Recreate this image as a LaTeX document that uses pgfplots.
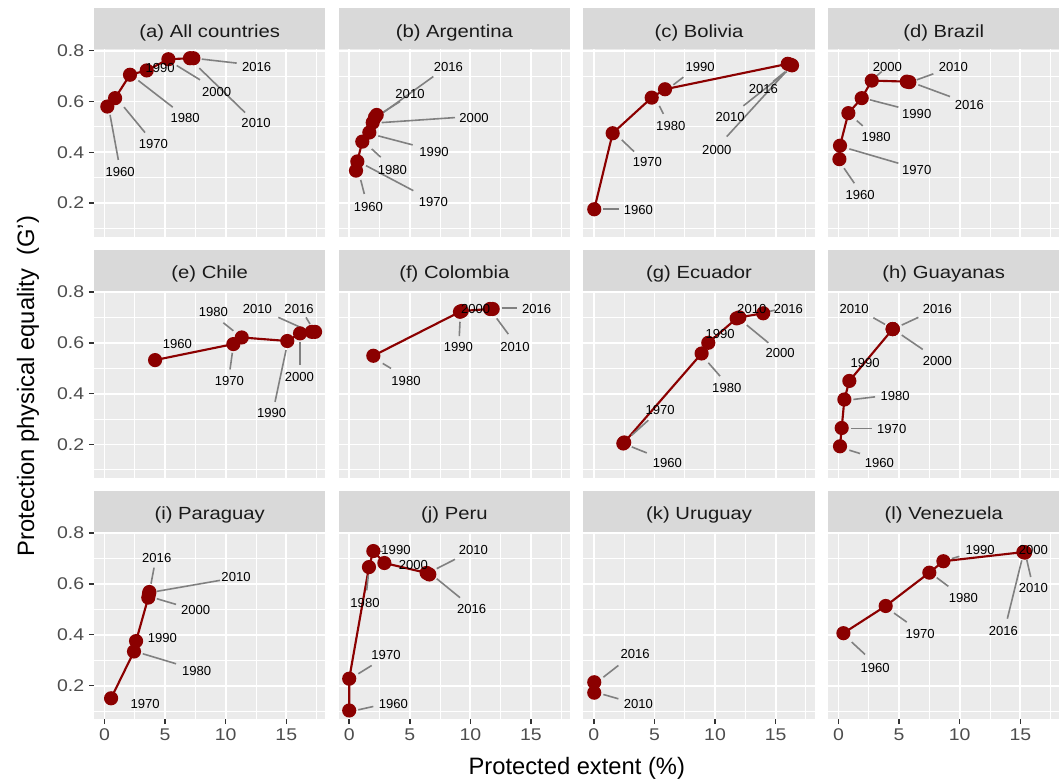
\documentclass[border=0pt]{standalone}
\usepackage{fontspec}
\setmainfont{Liberation Sans}
\newfontfamily\wide{Liberation Sans}[FakeStretch=1.15]
\usepackage{pgfplots}
\pgfplotsset{compat=1.18}
\definecolor{panelbg}{HTML}{EBEBEB}
\definecolor{stripbg}{HTML}{D9D9D9}
\definecolor{ticklab}{HTML}{4D4D4D}
\definecolor{tickc}{HTML}{333333}
\definecolor{dred}{HTML}{8B0000}
\definecolor{segc}{HTML}{808080}
\definecolor{striptext}{HTML}{1A1A1A}

% label helpers: positions read in image pixels, turned into axis units
\newcommand\xo{0}
\newcommand\yo{0}
\newcommand{\seg}[4]{\draw[segc, line width=1.2pt] (axis cs:{(#1-\xo)/12.12},{0.8-(#2-\yo)/254}) -- (axis cs:{(#3-\xo)/12.12},{0.8-(#4-\yo)/254});}
% year labels: anchor kept inside the axis, text set after it so it sits above the points
\newcommand\labs{}
\newcommand{\lab}[3]{\coordinate (L#3) at (axis cs:{(#1-\xo)/12.12},{0.8-(#2-\yo)/254});\expandafter\gdef\expandafter\labs\expandafter{\labs\dolab{#3}}}
\newcommand{\dolab}[1]{\node[inner sep=0pt, font=\fontsize{9.8}{9.8}\selectfont] at (L#1) {#1};}
\newcommand{\putlabs}{\labs\gdef\labs{}}

\pgfplotsset{
  fac/.style={
    anchor=north west, scale only axis, width=173.6pt, height=140.55pt,
    xmin=-0.87, xmax=18.23, ymin=0.068, ymax=0.805, clip=false,
    xtick={0,5,10,15}, ytick={0.2,0.4,0.6,0.8},
    minor xtick={2.5,7.5,12.5,17.5}, minor ytick={0.1,0.3,0.5,0.7},
    grid=both,
    major grid style={white, line width=1.4pt},
    minor grid style={white, line width=0.75pt},
    axis background/.style={fill=panelbg},
    axis line style={draw=none},
    tick align=outside, xtick pos=bottom, ytick pos=left,
    major tick length=3.8pt, minor tick length=0pt,
    tick style={tickc, line width=1.1pt},
    xticklabels={}, yticklabels={},
    xtick style={draw=none}, ytick style={draw=none},
    ticklabel style={font=\wide\fontsize{12.7}{12.7}\selectfont, text=ticklab},
    execute at begin axis={\fill[stripbg] (rel axis cs:0,1) rectangle ([yshift=30.75pt]rel axis cs:1,1);},
    every axis title/.style={at={(0.5,1)}, anchor=base, yshift=9pt, inner sep=0pt,
      text=striptext, font=\wide\fontsize{13.2}{13.2}\selectfont},
  },
  showx/.style={xticklabels={0,5,10,15}, xtick style={draw=tickc}},
  showy/.style={yticklabels={0.2,0.4,0.6,0.8}, ytick style={draw=tickc}},
  series/.style={dred, line width=1.6pt, mark=*, mark size=4.5pt,
    mark options={fill=dred, draw=dred}},
}

\begin{document}
\begin{tikzpicture}
\useasboundingbox (0,0) rectangle (797.25pt,-588pt);

% (a)
\renewcommand\xo{104.5}\renewcommand\yo{50.8}
\begin{axis}[fac, showy, at={(70.5pt,-37pt)}, title={(a) All countries}]
\addplot[series] coordinates {(0.23,0.580) (0.87,0.613) (2.10,0.705) (3.48,0.722) (5.27,0.766) (7.05,0.770) (7.33,0.770)};
\seg{110}{115}{118.3}{160} \lab{120}{171.7}{1960}
\seg{124}{107.3}{145}{132.7} \lab{153.3}{144}{1970}
\seg{138.3}{80.7}{172.7}{107.3} \lab{185}{118.3}{1980}
\lab{160}{68.3}{1990}
\seg{176.7}{65.7}{200}{80} \lab{216.7}{91.7}{2000}
\seg{199.3}{68.3}{245}{112.7} \lab{256}{123.3}{2010}
\seg{201.7}{59.3}{236.7}{63.3} \lab{256.7}{66.7}{2016}
\end{axis}
\putlabs

% (b)
\renewcommand\xo{349.2}\renewcommand\yo{50.8}
\begin{axis}[fac, at={(254pt,-37pt)}, title={(b) Argentina}]
\addplot[series] coordinates {(0.56,0.328) (0.67,0.364) (1.08,0.442) (1.66,0.478) (1.94,0.517) (2.13,0.538) (2.27,0.547)};
\seg{360.7}{180}{364.3}{194} \lab{368.3}{206.7}{1960}
\seg{366}{165.7}{413.3}{190.7} \lab{433.3}{202.3}{1970}
\seg{371.7}{149}{380.7}{157.3} \lab{392.3}{170}{1980}
\seg{378.3}{136}{412.7}{145} \lab{434}{151.7}{1990}
\seg{381.7}{122.7}{455}{117.7} \lab{474}{118.3}{2000}
\seg{382}{113}{400}{101.7} \lab{410}{94.3}{2010}
\seg{383.3}{112.7}{433.3}{76.7} \lab{448.3}{66.7}{2016}
\end{axis}
\putlabs

% (c)
\renewcommand\xo{593.8}\renewcommand\yo{50.8}
\begin{axis}[fac, at={(437.5pt,-37pt)}, title={(c) Bolivia}]
\addplot[series] coordinates {(0.03,0.176) (1.55,0.475) (4.77,0.615) (5.87,0.648) (16.00,0.748) (16.20,0.745) (16.35,0.742)};
\seg{603.3}{209.3}{619.3}{209.3} \lab{638.3}{210}{1960}
\seg{621.7}{140}{634}{151.7} \lab{647.3}{162.3}{1970}
\seg{659.3}{106}{663.3}{114} \lab{670.7}{126}{1980}
\seg{673.3}{85}{683.3}{77.3} \lab{700}{66.7}{1990}
\seg{784}{74}{726.7}{136.7} \lab{716.7}{150}{2000}
\seg{786.7}{71.7}{743.3}{106} \lab{730}{116.7}{2010}
\seg{785}{72}{773}{81.7} \lab{763.3}{89.3}{2016}
\end{axis}
\putlabs

% (d)
\renewcommand\xo{838.5}\renewcommand\yo{50.8}
\begin{axis}[fac, at={(621pt,-37pt)}, title={(d) Brazil}]
\addplot[series] coordinates {(0.07,0.373) (0.12,0.426) (0.81,0.554) (1.91,0.613) (2.74,0.682) (5.63,0.678) (5.84,0.676)};
\seg{844}{168.3}{854.3}{183.3} \lab{860}{195}{1960}
\seg{849.3}{149}{898.3}{163.3} \lab{916.7}{170}{1970}
\seg{856.7}{120.7}{862.7}{126} \lab{876}{136.7}{1980}
\seg{870}{100}{898.3}{107.3} \lab{916.7}{114.3}{1990}
\seg{876.7}{76}{881.7}{71.7} \lab{887.3}{67.3}{2000}
\seg{916.7}{80}{933.3}{74} \lab{953.3}{67.3}{2010}
\seg{918.3}{85}{950}{96.7} \lab{969.3}{105}{2016}
\end{axis}
\putlabs

% (e)
\renewcommand\xo{104.5}\renewcommand\yo{291.9}
\begin{axis}[fac, showy, at={(70.5pt,-218pt)}, title={(e) Chile}]
\addplot[series] coordinates {(4.17,0.532) (10.63,0.595) (11.32,0.621) (15.08,0.607) (16.13,0.637) (17.10,0.643) (17.37,0.643)};
\lab{177.3}{344.3}{1960}
\seg{232.3}{352.7}{230}{369.3} \lab{229.3}{380.7}{1970}
\seg{223.3}{322.7}{233.3}{330.7} \lab{213.3}{311.7}{1980}
\seg{286}{350}{275}{401.7} \lab{271.7}{413.3}{1990}
\seg{300}{341.7}{300}{365} \lab{299.3}{376.7}{2000}
\seg{278.3}{317.3}{305}{329.3} \lab{257.3}{309}{2010}
\seg{306}{317.3}{310}{324} \lab{299}{309}{2016}
\end{axis}
\putlabs

% (f)
\renewcommand\xo{349.2}\renewcommand\yo{291.9}
\begin{axis}[fac, at={(254pt,-218pt)}, title={(f) Colombia}]
\addplot[series] coordinates {(1.99,0.549) (9.14,0.722) (9.28,0.725) (11.62,0.733) (11.84,0.733)};
\seg{382.7}{363.3}{391}{368.3} \lab{406}{381}{1980}
\seg{460}{321.7}{459.3}{336} \lab{458.3}{347.3}{1990}
\lab{475.7}{309}{2000}
\seg{496.7}{318.3}{508.3}{334} \lab{515}{346.7}{2010}
\seg{501.7}{307.7}{516.7}{307.7} \lab{536.7}{309}{2016}
\end{axis}
\putlabs

% (g)
\renewcommand\xo{593.8}\renewcommand\yo{291.9}
\begin{axis}[fac, at={(437.5pt,-218pt)}, title={(g) Ecuador}]
\addplot[series] coordinates {(2.43,0.204) (2.50,0.208) (8.89,0.558) (9.44,0.600) (11.78,0.696) (12.00,0.700) (13.97,0.716)};
\seg{631.7}{446.7}{646.7}{452.7} \lab{667.3}{462.3}{1960}
\seg{631.7}{435}{648.3}{420} \lab{660}{410}{1970}
\seg{708.3}{362.7}{720}{376} \lab{726.7}{388.3}{1980}
\lab{720}{334}{1990}
\seg{746.7}{325}{768.3}{342.7} \lab{780}{353.3}{2000}
\lab{751.7}{309}{2010}
\seg{768.3}{311.7}{775}{310} \lab{788.3}{309}{2016}
\end{axis}
\putlabs

% (h)
\renewcommand\xo{838.5}\renewcommand\yo{291.9}
\begin{axis}[fac, at={(621pt,-218pt)}, title={(h) Guayanas}]
\addplot[series] coordinates {(0.12,0.193) (0.26,0.265) (0.48,0.377) (0.89,0.450) (4.47,0.654) (4.47,0.654) (4.47,0.654)};
\seg{849.3}{450}{860}{453.3} \lab{879.3}{462.3}{1960}
\seg{850.7}{428.3}{871.7}{428.3} \lab{891.7}{429.3}{1970}
\seg{853.3}{399.3}{875}{396.7} \lab{895}{396}{1980}
\lab{865}{362.7}{1990}
\seg{901.7}{335}{922.7}{349.3} \lab{937.3}{361}{2000}
\seg{873.3}{317.7}{885}{324.3} \lab{854}{309}{2010}
\seg{901.7}{325}{918.3}{317.3} \lab{937.3}{309}{2016}
\end{axis}
\putlabs

% (i)
\renewcommand\xo{104.5}\renewcommand\yo{532.7}
\begin{axis}[fac, showx, showy, at={(70.5pt,-398.8pt)}, title={(i) Paraguay}]
\addplot[series] coordinates {(0.54,0.150) (2.43,0.334) (2.60,0.375) (3.61,0.546) (3.67,0.561) (3.70,0.568)};
\lab{145}{703.3}{1970}
\seg{142.7}{653.3}{176}{663.3} \lab{196.7}{670.7}{1980}
\lab{162.3}{637.3}{1990}
\seg{156.7}{598.3}{176}{604} \lab{195.7}{610}{2000}
\seg{156.7}{591}{220}{580} \lab{236}{576.7}{2010}
\seg{151}{583.3}{154}{567.3} \lab{156.7}{557.7}{2016}
\end{axis}
\putlabs

% (j)
\renewcommand\xo{349.2}\renewcommand\yo{532.7}
\begin{axis}[fac, showx, at={(254pt,-398.8pt)}, title={(j) Peru}]
\addplot[series] coordinates {(0.00,0.102) (0.00,0.227) (1.63,0.666) (1.99,0.729) (2.90,0.682) (6.39,0.643) (6.61,0.637)};
\seg{358.3}{709.3}{373.3}{706} \lab{393.3}{703.3}{1960}
\seg{358.3}{673.3}{371.7}{665} \lab{386}{655}{1970}
\seg{368.3}{575}{366.7}{590} \lab{365}{602.7}{1980}
\seg{376.7}{551}{383.3}{551} \lab{396}{550}{1990}
\lab{413.3}{565}{2000}
\seg{436.7}{568.3}{455}{559} \lab{473.3}{550}{2010}
\seg{436.7}{578.3}{460}{597.3} \lab{471.7}{609}{2016}
\end{axis}
\putlabs

% (k)
\renewcommand\xo{593.8}\renewcommand\yo{532.7}
\begin{axis}[fac, showx, at={(437.5pt,-398.8pt)}, title={(k) Uruguay}]
\addplot[series] coordinates {(0.03,0.172) (0.03,0.213)};
\seg{603.3}{676.7}{618.3}{665} \lab{635}{653.3}{2016}
\seg{603.3}{694}{618.3}{698.3} \lab{638.3}{703.3}{2010}
\end{axis}
\putlabs

% (l)
\renewcommand\xo{838.5}\renewcommand\yo{532.7}
\begin{axis}[fac, showx, at={(621pt,-398.8pt)}, title={(l) Venezuela}]
\addplot[series] coordinates {(0.40,0.406) (3.89,0.513) (7.49,0.644) (8.65,0.689) (15.25,0.725) (15.33,0.725) (15.39,0.723)};
\seg{851.7}{641.7}{865}{654} \lab{875}{667.3}{1960}
\seg{894}{612.7}{906.7}{621.7} \lab{920}{634}{1970}
\seg{936.7}{577.3}{948.3}{586} \lab{963.3}{597.3}{1980}
\seg{951.7}{558.3}{959.3}{556} \lab{980}{549.3}{1990}
\lab{1033.3}{549.3}{2000}
\seg{1026.7}{559.3}{1030.7}{576.7} \lab{1033.3}{587.7}{2010}
\seg{1021.7}{560}{1007.3}{618.3} \lab{1003.3}{631}{2016}
\end{axis}
\putlabs

\node[font=\fontsize{17.8}{17.8}\selectfont] at (432.6pt,-576pt) {Protected extent (\%)};
\node[rotate=90, font=\fontsize{17.8}{17.8}\selectfont] at (21pt,-289.5pt) {Protection physical equality\ \ (G')};
\end{tikzpicture}
\end{document}
